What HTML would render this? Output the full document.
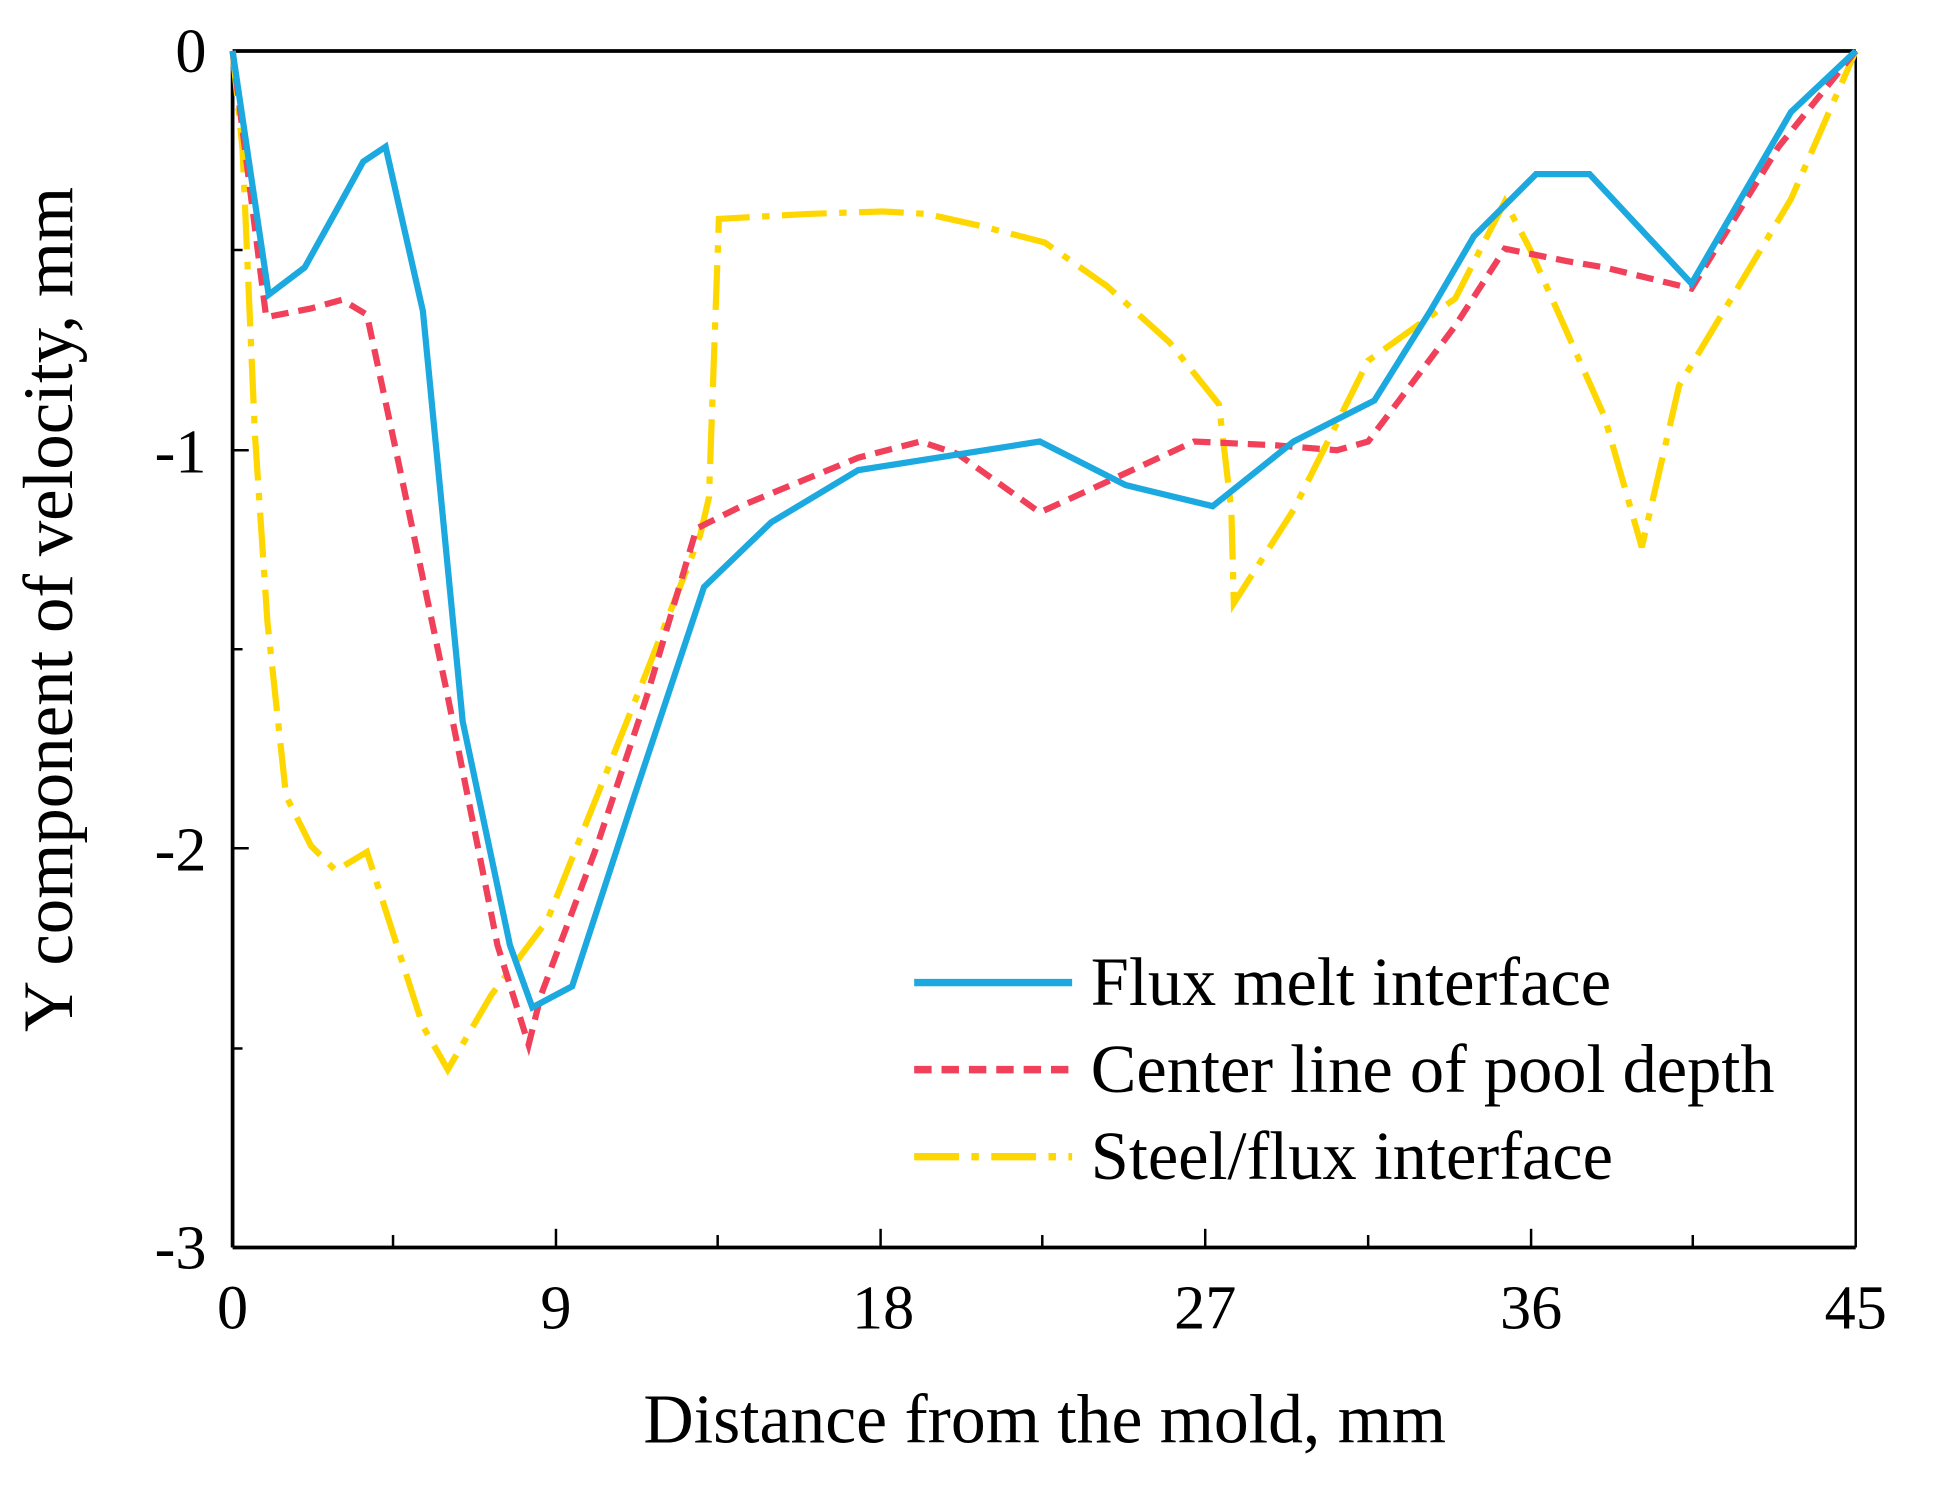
<!DOCTYPE html>
<html><head><style>html,body{margin:0;padding:0;background:#fff}svg{display:block}</style></head><body>
<svg width="1949" height="1490" viewBox="0 0 1567 1198" preserveAspectRatio="none" xmlns="http://www.w3.org/2000/svg" font-family="'Liberation Serif',serif">
<rect width="1567" height="1198" fill="#fff"/>
<g stroke="#000" fill="none">
<line x1="187" y1="41" x2="1492" y2="41" stroke-width="3"/>
<line x1="187" y1="1003" x2="1492" y2="1003" stroke-width="3"/>
<line x1="187" y1="41" x2="187" y2="1003" stroke-width="3"/>
<line x1="1492" y1="41" x2="1492" y2="1003" stroke-width="2"/>
<g stroke-width="2">
<line x1="316" y1="1003" x2="316" y2="993"/><line x1="447" y1="1003" x2="447" y2="988"/>
<line x1="577" y1="1003" x2="577" y2="993"/><line x1="708" y1="1003" x2="708" y2="988"/>
<line x1="838" y1="1003" x2="838" y2="993"/><line x1="969" y1="1003" x2="969" y2="988"/>
<line x1="1100" y1="1003" x2="1100" y2="993"/><line x1="1231" y1="1003" x2="1231" y2="988"/>
<line x1="1361" y1="1003" x2="1361" y2="993"/>
<line x1="187" y1="201" x2="195" y2="201"/><line x1="187" y1="362" x2="200" y2="362"/>
<line x1="187" y1="522" x2="195" y2="522"/><line x1="187" y1="682" x2="200" y2="682"/>
<line x1="187" y1="843" x2="195" y2="843"/>
</g></g>
<polyline fill="none" stroke="#ffd700" stroke-width="5" stroke-dasharray="36,10,6,10" points="187,41 195,120 205,350 215,500 230,640 250,680 270,700 295,685 340,825 360,860 395,800 440,740 480,640 520,540 563,430 570,400 578,176 650,172 710,170 745,172 790,182 840,195 890,230 940,275 980,325 990,410 992,485 1040,410 1100,290 1170,240 1210,162 1230,200 1290,335 1320,440 1350,310 1380,260 1440,160 1492,41"/>
<polyline fill="none" stroke="#f0405a" stroke-width="5" stroke-dasharray="14,8" points="187,41 214,255 250,248 275,241 295,253 320,370 360,560 400,760 425,840 435,800 480,680 520,560 560,425 600,405 690,368 740,355 770,365 836,412 880,392 960,355 1025,358 1075,362 1100,355 1170,262 1210,200 1260,210 1290,215 1360,232 1430,118 1492,41"/>
<polyline fill="none" stroke="#1ba9df" stroke-width="5" points="187,41 216,237 245,215 270,170 292,130 310,118 340,250 372,580 410,760 428,810 460,793 510,640 566,472 620,420 690,378 760,367 836,355 905,390 975,407 1040,355 1105,322 1150,250 1185,190 1235,140 1278,140 1360,228 1440,90 1492,41"/>
<g font-size="50" text-anchor="middle" fill="#000">
<text x="187" y="1068">0</text><text x="447" y="1068">9</text><text x="710" y="1068">18</text>
<text x="969" y="1068">27</text><text x="1231" y="1068">36</text><text x="1492" y="1068">45</text>
</g>
<g font-size="50" text-anchor="end" fill="#000">
<text x="166" y="58">0</text><text x="166" y="380">-1</text><text x="166" y="700">-2</text><text x="166" y="1020">-3</text>
</g>
<text x="840" y="1160" font-size="56" text-anchor="middle">Distance from the mold, mm</text>
<text transform="translate(58,490) rotate(-90)" font-size="57" text-anchor="middle">Y component of velocity, mm</text>
<line x1="735" y1="790" x2="862" y2="790" stroke="#1ba9df" stroke-width="6"/>
<line x1="735" y1="860" x2="862" y2="860" stroke="#f0405a" stroke-width="6" stroke-dasharray="14,8"/>
<line x1="735" y1="930" x2="862" y2="930" stroke="#ffd700" stroke-width="6" stroke-dasharray="36,10,6,10"/>
<g font-size="55" fill="#000">
<text x="877" y="808">Flux melt interface</text>
<text x="877" y="878">Center line of pool depth</text>
<text x="877" y="948">Steel/flux interface</text>
</g>
</svg>
</body></html>
